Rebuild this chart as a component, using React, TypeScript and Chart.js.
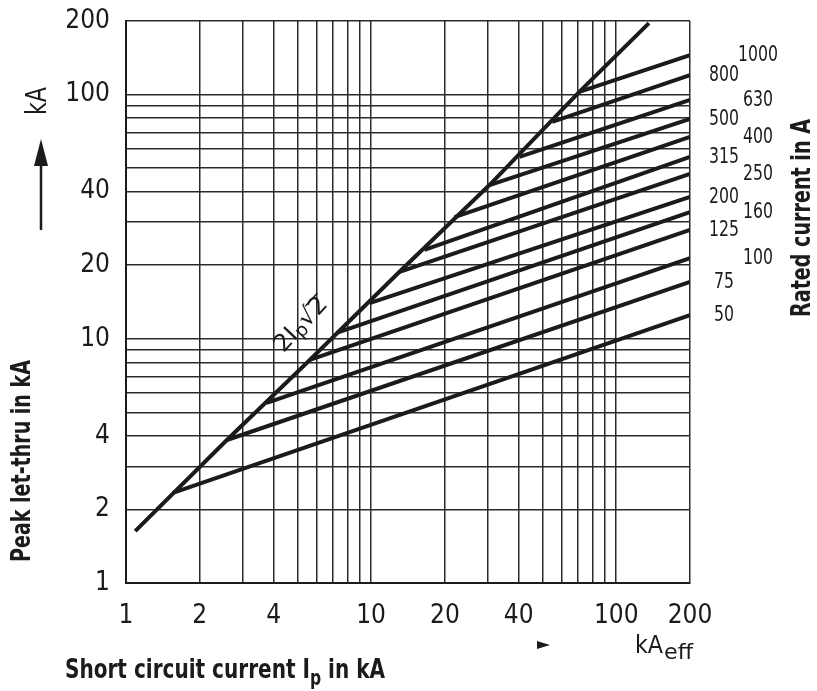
import React, { useEffect, useRef } from "react";
import { Chart, registerables } from "chart.js";

Chart.register(...registerables);

// ---- data ----
const X_TICKS = [1, 2, 3, 4, 5, 6, 7, 8, 9, 10, 20, 30, 40, 50, 60, 70, 80, 90, 100, 200];
const Y_TICKS = [1, 2, 3, 4, 5, 6, 7, 8, 9, 10, 20, 30, 40, 50, 60, 70, 80, 90, 100, 200];
const X_LABELS = [1, 2, 4, 10, 20, 40, 100, 200];
const Y_LABELS = [1, 2, 4, 10, 20, 40, 100, 200];

// peak-current envelope 2·Ip·√2
const PEAK_X = [1.09, 2.58, 5.62, 13.06, 30.4, 70.7, 136];
const PEAK_Y = [1.63, 3.85, 8.19, 18.8, 42.6, 102.5, 196];

// rated-current curves
const RATINGS = ["50", "75", "100", "125", "160", "200", "250", "315", "400", "500", "630", "800", "1000"];
const START_X = [1.554, 2.58, 3.75, 5.62, 7.23, 9.86, 13.06, 16.5, 21.9, 30.4, 40.3, 54.8, 70.7];
const START_Y = [2.34, 3.85, 5.46, 8.19, 10.56, 14.0, 18.8, 23.1, 31.5, 42.6, 55.5, 77.3, 102.5];
const END_X = [200, 200, 200, 200, 200, 200, 200, 200, 200, 200, 200, 200, 200];
const END_Y = [12.5, 17.1, 21.4, 27.9, 33.0, 38.1, 47.3, 55.5, 67, 79.4, 95, 120, 145];

// ---- style ----
const INK = "#1b1b1b";
const NARROW = '"Liberation Sans Narrow", "DejaVu Sans Condensed", "Roboto", sans-serif';
const LABEL_COL = [0, 0, 1, 0, 1, 0, 1, 0, 1, 0, 1, 0, 1];

function fitText(ctx: CanvasRenderingContext2D, text: string, x: number, y: number, font: string, width: number) {
  ctx.font = font;
  const w = ctx.measureText(text).width || 1;
  ctx.save();
  ctx.translate(x, y);
  ctx.scale(width / w, 1);
  ctx.fillText(text, 0, 0);
  ctx.restore();
}

const textPlugin = {
  id: "annotations",
  afterDraw(chart: any) {
    const { ctx, chartArea: ca, scales } = chart;
    const xs = scales.x;
    const ys = scales.y;
    ctx.save();
    ctx.fillStyle = INK;
    ctx.strokeStyle = INK;

    // rated current labels
    ctx.textAlign = "center";
    ctx.textBaseline = "middle";
    ctx.font = `22px ${NARROW}`;
    const rs = 40 / ctx.measureText("1000").width;
    RATINGS.forEach((r, i) => {
      const px = ca.right + (LABEL_COL[i] ? 68 : 34);
      const py = ys.getPixelForValue(END_Y[i]);
      ctx.font = `22px ${NARROW}`;
      fitText(ctx, r, px, py, `22px ${NARROW}`, ctx.measureText(r).width * rs);
    });

    // right title
    ctx.save();
    ctx.translate(803, 218);
    ctx.rotate(-Math.PI / 2);
    fitText(ctx, "Rated current in A", 0, 0, `bold 27px ${NARROW}`, 198);
    ctx.restore();

    // left title
    ctx.save();
    ctx.translate(23, 461);
    ctx.rotate(-Math.PI / 2);
    fitText(ctx, "Peak let-thru in kA", 0, 0, `bold 27px ${NARROW}`, 202);
    ctx.restore();

    // kA + arrow
    ctx.save();
    ctx.translate(39, 101);
    ctx.rotate(-Math.PI / 2);
    fitText(ctx, "kA", 0, 0, `28px ${NARROW}`, 28);
    ctx.restore();
    ctx.lineWidth = 2.5;
    ctx.beginPath();
    ctx.moveTo(41, 230);
    ctx.lineTo(41, 160);
    ctx.stroke();
    ctx.beginPath();
    ctx.moveTo(41, 139);
    ctx.lineTo(48, 166);
    ctx.lineTo(34, 166);
    ctx.closePath();
    ctx.fill();

    // bottom title with subscript
    ctx.textAlign = "left";
    ctx.textBaseline = "alphabetic";
    const big = `bold 27px ${NARROW}`;
    const small = `bold 21px ${NARROW}`;
    const parts: [string, string, number][] = [
      ["Short circuit current I", big, 0],
      ["p", small, 7],
      [" in kA", big, 0],
    ];
    let natural = 0;
    parts.forEach(([t, f]) => {
      ctx.font = f;
      natural += ctx.measureText(t).width;
    });
    ctx.save();
    ctx.translate(65, 678);
    ctx.scale(320 / natural, 1);
    let bx = 0;
    parts.forEach(([t, f, dy]) => {
      ctx.font = f;
      ctx.fillText(t, bx, dy);
      bx += ctx.measureText(t).width;
    });
    ctx.restore();

    // kA_eff
    fitText(ctx, "kA", 635, 653, `24px ${NARROW}`, 28);
    fitText(ctx, "eff", 664, 659, `21px ${NARROW}`, 29);
    ctx.beginPath();
    ctx.moveTo(537, 641);
    ctx.lineTo(550, 645);
    ctx.lineTo(537, 649);
    ctx.closePath();
    ctx.fill();

    // 2·Ip·√2 label along the envelope
    const ax = xs.getPixelForValue(5.2);
    const ay = ys.getPixelForValue(11.4);
    ctx.save();
    ctx.translate(ax, ay);
    ctx.rotate((-47 * Math.PI) / 180);
    const fBig = `24px ${NARROW}`;
    const fSub = `18px ${NARROW}`;
    ctx.font = fBig;
    const wA = ctx.measureText("2I").width;
    const wR = ctx.measureText("\u221A").width;
    const w2 = ctx.measureText("2").width;
    ctx.font = fSub;
    const wP = ctx.measureText("p").width;
    const total = wA + wP + wR + w2;
    ctx.scale(66 / total, 1);
    let tx = -total / 2;
    ctx.textBaseline = "middle";
    ctx.font = fBig;
    ctx.fillText("2I", tx, 0);
    tx += wA;
    ctx.font = fSub;
    ctx.fillText("p", tx, 5);
    tx += wP;
    ctx.font = fBig;
    ctx.fillText("\u221A", tx, 0);
    tx += wR;
    ctx.fillText("2", tx, 0);
    ctx.lineWidth = 1.5;
    ctx.beginPath();
    ctx.moveTo(tx - 1, -10);
    ctx.lineTo(tx + w2 + 1, -10);
    ctx.stroke();
    ctx.restore();

    ctx.restore();
  },
};

export default function App() {
  const ref = useRef<HTMLCanvasElement>(null);

  useEffect(() => {
    if (!ref.current) return;
    const datasets: any[] = [
      {
        label: "2Ip√2",
        data: PEAK_X.map((x, i) => ({ x, y: PEAK_Y[i] })),
      },
      ...RATINGS.map((r, i) => ({
        label: r + " A",
        data: [
          { x: START_X[i], y: START_Y[i] },
          { x: END_X[i], y: END_Y[i] },
        ],
      })),
    ].map((d) => ({
      ...d,
      type: "line",
      showLine: true,
      borderColor: INK,
      borderWidth: 4,
      pointRadius: 0,
      fill: false,
      tension: 0,
      borderCapStyle: "butt",
      borderJoinStyle: "round",
    }));

    const gridColor = "#2a2a2a";
    const chart = new Chart(ref.current, {
      type: "scatter",
      data: { datasets },
      plugins: [textPlugin],
      options: {
        animation: false,
        responsive: true,
        maintainAspectRatio: false,
        layout: { padding: { left: 0, top: 21, right: 127, bottom: 0 } },
        plugins: { legend: { display: false }, tooltip: { enabled: false } },
        scales: {
          x: {
            type: "logarithmic",
            min: 1,
            max: 200,
            afterBuildTicks: (s: any) => {
              s.ticks = X_TICKS.map((v) => ({ value: v }));
            },
            afterFit: (s: any) => {
              s.height = 108;
              s.paddingLeft = 0;
              s.paddingRight = 0;
            },
            ticks: {
              autoSkip: false,
              maxRotation: 0,
              padding: 18,
              color: INK,
              font: { family: NARROW, size: 26 },
              callback: (v: any) => (X_LABELS.includes(Number(v)) ? String(v) : ""),
            },
            grid: { color: gridColor, lineWidth: 1.5, drawTicks: false },
            border: { display: true, color: INK, width: 2 },
          },
          y: {
            type: "logarithmic",
            min: 1,
            max: 200,
            afterBuildTicks: (s: any) => {
              s.ticks = Y_TICKS.map((v) => ({ value: v }));
            },
            afterFit: (s: any) => {
              s.width = 126;
              s.paddingTop = 0;
              s.paddingBottom = 0;
            },
            ticks: {
              autoSkip: false,
              padding: 16,
              color: INK,
              font: { family: NARROW, size: 26 },
              callback: (v: any) => (Y_LABELS.includes(Number(v)) ? String(v) : ""),
            },
            grid: { color: gridColor, lineWidth: 1.5, drawTicks: false },
            border: { display: true, color: INK, width: 2 },
          },
        },
      },
    } as any);
    return () => chart.destroy();
  }, []);

  return (
    <div style={{ position: "fixed", left: 0, top: 0, width: 817, height: 691, background: "#fff" }}>
      <canvas ref={ref} />
    </div>
  );
}
